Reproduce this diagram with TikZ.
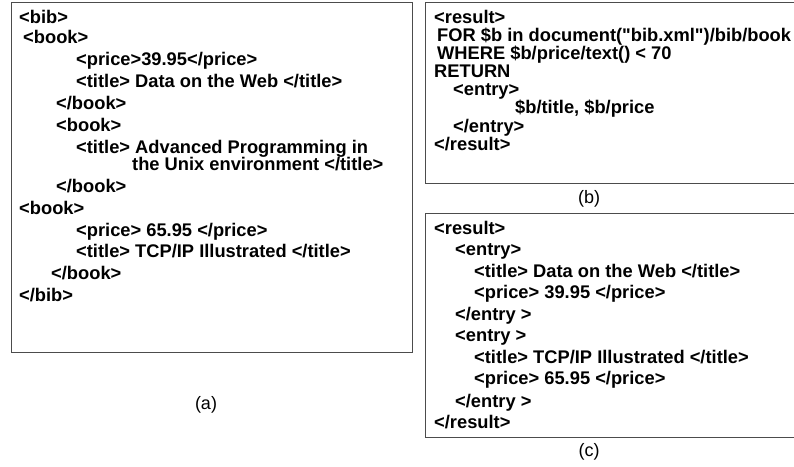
\documentclass[tikz,border=0pt]{standalone}
\usepackage{fontspec}
\setmainfont{Liberation Sans}[Ligatures=TeXOff]
\begin{document}
\begin{tikzpicture}[x=1pt,y=-1pt,
  code/.style={anchor=base west,inner sep=0pt,font=\fontsize{18.3}{20}\selectfont\bfseries},
  caplabel/.style={inner sep=0pt,font=\fontsize{18}{20}\selectfont},
  frame/.style={draw=black!70,line width=1pt}]
\path[use as bounding box,clip] (0,0) rectangle (794,466);
\fill[white] (0,0) rectangle (794,466);
% boxes
\draw[frame] (11,2) rectangle (412,352);
\draw[frame] (425,2) rectangle (810,183);
\draw[frame] (425,213) rectangle (810,437);
% (a)
\node[code] (a1) at (19,23) {<bib>};
\node[code] (a2) at (23,43) {<book>};
\node[code] (a3) at (76,65) {<price>39.95</price>};
\node[code] (a4) at (76,87) {<title> Data on the Web </title>};
\node[code] (a5) at (56,109) {</book>};
\node[code] (a6) at (56,131) {<book>};
\node[code] (a7) at (76,153) {<title> Advanced Programming in};
\node[code] (a8) at (132,170) {the Unix environment </title>};
\node[code] (a9) at (56,192) {</book>};
\node[code] (a10) at (19,214) {<book>};
\node[code] (a11) at (76,236) {<price> 65.95 </price>};
\node[code] (a12) at (76,257) {<title> TCP/IP Illustrated </title>};
\node[code] (a13) at (51,279) {</book>};
\node[code] (a14) at (19,301) {</bib>};
% (b)
\node[code] (b1) at (434,23) {<result>};
\node[code] (b2) at (437,41) {FOR \$b in document("bib.xml")/bib/book};
\node[code] (b3) at (437,59) {WHERE \$b/price/text() < 70};
\node[code] (b4) at (434,77) {RETURN};
\node[code] (b5) at (453,95) {<entry>};
\node[code] (b6) at (515,113) {\$b/title, \$b/price};
\node[code] (b7) at (453,132) {</entry>};
\node[code] (b8) at (434,150) {</result>};
% (c)
\node[code] (c1) at (434,234) {<result>};
\node[code] (c2) at (455,255) {<entry>};
\node[code] (c3) at (474,277) {<title> Data on the Web </title>};
\node[code] (c4) at (474,298) {<price> 39.95 </price>};
\node[code] (c5) at (455,320) {</entry >};
\node[code] (c6) at (455,341) {<entry >};
\node[code] (c7) at (474,363) {<title> TCP/IP Illustrated </title>};
\node[code] (c8) at (474,384) {<price> 65.95 </price>};
\node[code] (c9) at (455,407) {</entry >};
\node[code] (c10) at (434,428) {</result>};
% captions
\node[caplabel] (la) at (206,405) {(a)};
\node[caplabel] (lb) at (589,199) {(b)};
\node[caplabel] (lc) at (589,452) {(c)};
\end{tikzpicture}
\end{document}
